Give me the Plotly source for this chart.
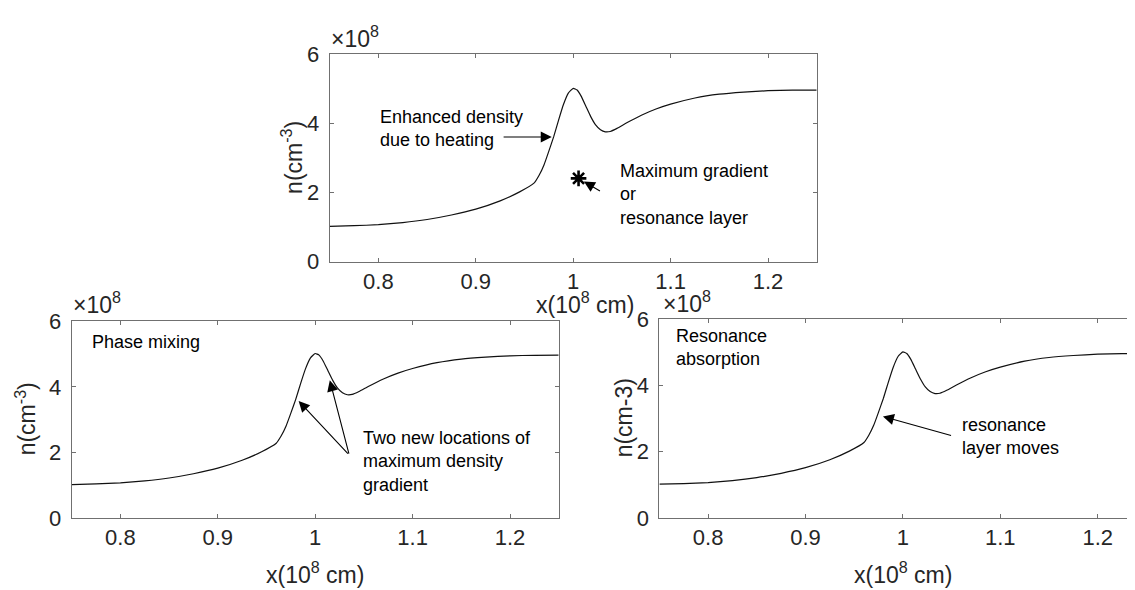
import plotly.graph_objects as go

# ---- data (x in 1e8 cm, n in 1e8 cm^-3) ----
x_pos = [0.75, 0.775, 0.80, 0.825, 0.85, 0.875, 0.90, 0.925, 0.945, 0.960,
         0.965, 0.970, 0.975, 0.980, 0.985, 0.990, 0.995, 1.000, 1.004, 1.008,
         1.013, 1.018, 1.023, 1.028, 1.033, 1.038, 1.045, 1.055, 1.070, 1.085,
         1.100, 1.125, 1.150, 1.175, 1.200, 1.225, 1.250]
density = [1.02, 1.04, 1.07, 1.13, 1.22, 1.35, 1.52, 1.76, 2.02, 2.28,
           2.50, 2.80, 3.20, 3.62, 4.10, 4.55, 4.88, 5.02, 4.97, 4.80,
           4.50, 4.20, 3.96, 3.82, 3.76, 3.77, 3.86, 4.02, 4.24, 4.42,
           4.56, 4.74, 4.85, 4.91, 4.95, 4.965, 4.97]
star_x = [1.0055]
star_y = [2.41]
x_ticks = [0.8, 0.9, 1.0, 1.1, 1.2]
x_tick_labels = ["0.8", "0.9", "1", "1.1", "1.2"]
y_ticks = [0, 2, 4, 6]
y_tick_labels = ["0", "2", "4", "6"]

W, H = 1135, 590
FONT = "Liberation Sans, Arial, Helvetica, sans-serif"
AXC = "#707070"
TXT = "#262626"


def px(x):
    return x / W


def py(y):
    return 1 - y / H


fig = go.Figure()
for xa, ya in [("x", "y"), ("x2", "y2"), ("x3", "y3")]:
    fig.add_trace(go.Scatter(x=x_pos, y=density, mode="lines", xaxis=xa, yaxis=ya,
                             line=dict(color="#111111", width=1.2, shape="spline", smoothing=0.4),
                             hoverinfo="skip"))
fig.add_trace(go.Scatter(x=star_x, y=star_y, mode="markers", xaxis="x", yaxis="y",
                         marker=dict(symbol="asterisk-open", size=13, color="black",
                                     line=dict(color="black", width=2.6)),
                         hoverinfo="skip"))


def xaxis(domain, anchor, rng):
    return dict(domain=domain, anchor=anchor, range=rng, tickvals=x_ticks, ticktext=x_tick_labels,
                ticks="inside", ticklen=4, tickcolor=AXC, showline=True, linecolor=AXC,
                linewidth=1, mirror="ticks", showgrid=False, zeroline=False,
                tickfont=dict(size=22, color=TXT, family=FONT))


def yaxis(domain, anchor, mirror="ticks"):
    return dict(domain=domain, anchor=anchor, range=[0, 6], tickvals=y_ticks, ticktext=y_tick_labels,
                ticks="inside", ticklen=4, tickcolor=AXC, showline=True, linecolor=AXC,
                linewidth=1, mirror=mirror, showgrid=False, zeroline=False,
                ticklabelstandoff=5,
                tickfont=dict(size=22, color=TXT, family=FONT))


fig.update_layout(
    width=W, height=H, margin=dict(l=0, r=0, t=0, b=0),
    paper_bgcolor="white", plot_bgcolor="white", showlegend=False,
    xaxis=xaxis([px(321.7), px(808.7)], "y", [0.75, 1.25]),
    yaxis=yaxis([py(252.3), py(36)], "x"),
    xaxis2=xaxis([px(63.7), px(550.7)], "y2", [0.75, 1.25]),
    yaxis2=yaxis([py(520), py(314.7)], "x2"),
    xaxis3=xaxis([px(651.4), 1.0], "y3", [0.75, 0.75 + (W - 651.4) / 974.0]),
    yaxis3=yaxis([py(520), py(312.7)], "x3", mirror=False),
)

ann = []


def text(x, y, t, ref, size=18):
    ann.append(dict(x=x, y=y, xref="x" + ref, yref="y" + ref, text=t, showarrow=False,
                    xanchor="left", yanchor="middle", align="left",
                    font=dict(size=size, color="black", family=FONT)))


def arrow(hx, hy, tx, ty, ref):
    ann.append(dict(x=hx, y=hy, ax=tx, ay=ty, xref="x" + ref, yref="y" + ref,
                    axref="x" + ref, ayref="y" + ref, text="", showarrow=True,
                    arrowhead=2, arrowsize=2.0, arrowwidth=1.1, arrowcolor="black",
                    standoff=0, startstandoff=0))


def paper_text(x, y, t, size=21, angle=0, xanchor="center", yanchor="middle"):
    ann.append(dict(x=px(x), y=py(y), xref="paper", yref="paper", text=t, showarrow=False,
                    xanchor=xanchor, yanchor=yanchor, textangle=angle,
                    font=dict(size=size, color=TXT, family=FONT)))


# top panel
text(0.800, 3.86, "Enhanced density<br>due to heating", "")
arrow(0.978, 3.61, 0.927, 3.61, "")
text(1.046, 1.93, "Maximum gradient<br>or<br>resonance layer", "")
arrow(1.011, 2.32, 1.029, 2.02, "")
# bottom left
text(0.769, 5.37, "Phase mixing", "2")
text(1.047, 1.73, "Two new locations of<br>maximum density<br>gradient", "2")
arrow(0.983, 3.57, 1.035, 1.92, "2")
arrow(1.015, 4.20, 1.035, 1.92, "2")
# bottom right
text(0.765, 5.15, "Resonance<br>absorption", "3")
text(1.0585, 2.475, "resonance<br>layer moves", "3")
arrow(0.9795, 3.07, 1.051, 2.48, "3")

# exponent labels
paper_text(321, 35, "×10<sup>8</sup>", size=23, xanchor="left", yanchor="bottom")
paper_text(63, 313, "×10<sup>8</sup>", size=23, xanchor="left", yanchor="bottom")
paper_text(653, 312, "×10<sup>8</sup>", size=23, xanchor="left", yanchor="bottom")

# axis titles
paper_text(577, 296, "x(10<sup>8</sup> cm)", size=23)
paper_text(307, 577, "x(10<sup>8</sup> cm)", size=23)
paper_text(895, 577, "x(10<sup>8</sup> cm)", size=23)
paper_text(284, 144, "n(cm<sup>-3</sup>)", size=23, angle=-90)
paper_text(18, 417, "n(cm<sup>-3</sup>)", size=23, angle=-90)
paper_text(616, 416, "n(cm-3)", size=23, angle=-90)

fig.update_layout(annotations=ann)
fig.write_html("out.html")
